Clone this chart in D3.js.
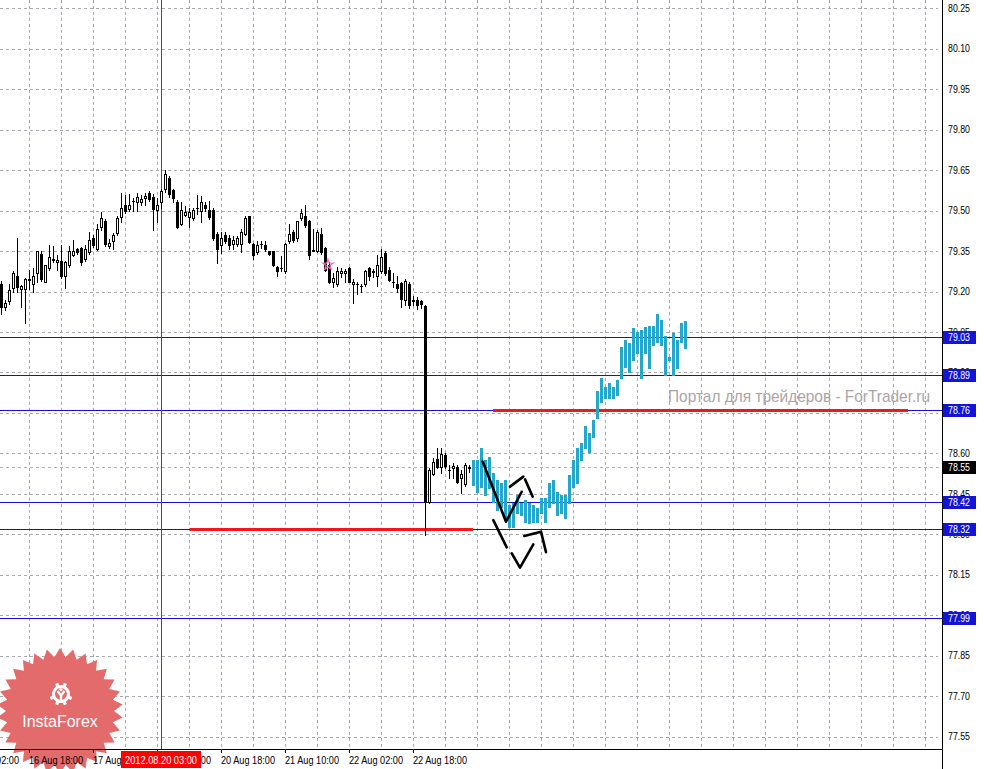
<!DOCTYPE html>
<html><head><meta charset="utf-8">
<script src="https://cdn.jsdelivr.net/npm/d3@7"></script>
<style>html,body{margin:0;padding:0;background:#fff;overflow:hidden}svg{display:block}</style>
</head><body><svg id="c" width="984" height="769"></svg>
<script>
// ---- candle data (H1 bars, bar 0 = 16 Aug 11:00) ----
const opens = [79.229,79.144,79.166,79.215,79.259,79.209,79.209,79.242,79.227,79.269,
79.34,79.237,79.287,79.32,79.309,79.312,79.256,79.297,79.336,79.359,
79.361,79.319,79.347,79.399,79.359,79.44,79.461,79.369,79.387,79.417,
79.477,79.522,79.507,79.534,79.531,79.531,79.547,79.564,79.552,79.502,
79.531,79.579,79.622,79.575,79.531,79.449,79.484,79.477,79.472,79.509,
79.5,79.522,79.502,79.502,79.412,79.371,79.41,79.4,79.377,79.377,
79.375,79.412,79.479,79.377,79.346,79.377,79.371,79.35,79.35,79.29,
79.287,79.275,79.387,79.419,79.4,79.471,79.479,79.46,79.355,79.35,
79.412,79.36,79.3,79.234,79.227,79.269,79.269,79.287,79.227,79.227,
79.219,79.227,79.287,79.275,79.256,79.275,79.344,79.281,79.237,79.229,
79.231,79.169,79.229,79.169,79.169,79.166,79.147,78.421,78.523,78.579,
78.551,78.596,78.539,78.545,78.551,78.508,78.486,78.547];
const highs = [79.241,79.17,79.229,79.275,79.40,79.225,79.25,79.28,79.287,79.35,
79.35,79.3,79.371,79.37,79.337,79.371,79.315,79.37,79.39,79.36,
79.365,79.372,79.42,79.41,79.45,79.494,79.47,79.395,79.417,79.481,
79.565,79.559,79.56,79.546,79.565,79.559,79.565,79.572,79.56,79.546,
79.581,79.652,79.63,79.58,79.54,79.531,79.519,79.509,79.509,79.559,
79.556,79.531,79.534,79.51,79.42,79.419,79.419,79.409,79.406,79.406,
79.431,79.48,79.48,79.38,79.387,79.387,79.387,79.352,79.352,79.295,
79.331,79.38,79.45,79.43,79.461,79.506,79.522,79.465,79.431,79.43,
79.434,79.365,79.31,79.269,79.29,79.287,79.285,79.29,79.246,79.237,
79.227,79.28,79.29,79.285,79.337,79.359,79.35,79.29,79.27,79.256,
79.235,79.245,79.235,79.184,79.181,79.17,79.15,78.546,78.582,78.619,
78.619,78.60,78.557,78.565,78.556,78.539,78.565,78.557];
const lows = [79.115,79.13,79.155,79.2,79.20,79.144,79.084,79.21,79.2,79.235,
79.24,79.235,79.28,79.31,79.28,79.25,79.215,79.29,79.33,79.34,
79.3,79.315,79.34,79.365,79.355,79.43,79.37,79.36,79.356,79.41,
79.459,79.49,79.497,79.5,79.5,79.52,79.522,79.535,79.429,79.459,
79.509,79.57,79.55,79.531,79.435,79.445,79.48,79.44,79.465,79.487,
79.459,79.5,79.47,79.39,79.306,79.344,79.38,79.356,79.356,79.37,
79.346,79.41,79.38,79.319,79.34,79.36,79.35,79.335,79.295,79.256,
79.275,79.27,79.38,79.385,79.387,79.465,79.44,79.319,79.35,79.345,
79.34,79.275,79.23,79.216,79.22,79.254,79.237,79.234,79.156,79.19,
79.199,79.22,79.244,79.254,79.219,79.27,79.26,79.24,79.216,79.2,
79.144,79.15,79.14,79.15,79.134,79.14,78.296,78.418,78.52,78.545,
78.527,78.545,78.509,78.508,78.49,78.455,78.48,78.533];
const closes = [79.144,79.159,79.206,79.269,79.216,79.219,79.247,79.245,79.259,79.349,
79.246,79.297,79.329,79.317,79.317,79.256,79.309,79.349,79.349,79.346,
79.309,79.359,79.39,79.371,79.431,79.471,79.376,79.379,79.411,79.471,
79.509,79.5,79.52,79.534,79.552,79.544,79.553,79.544,79.506,79.522,
79.574,79.635,79.56,79.547,79.44,79.502,79.494,79.494,79.504,79.508,
79.531,79.509,79.477,79.397,79.359,79.4,79.387,79.371,79.39,79.4,
79.419,79.472,79.385,79.337,79.371,79.377,79.356,79.34,79.297,79.275,
79.287,79.377,79.412,79.39,79.46,79.491,79.446,79.337,79.352,79.421,
79.347,79.281,79.237,79.25,79.275,79.277,79.277,79.237,79.237,79.227,
79.219,79.275,79.256,79.274,79.3,79.329,79.269,79.244,79.236,79.212,
79.171,79.24,79.15,79.166,79.152,79.155,78.420,78.539,78.567,78.551,
78.598,78.554,78.537,78.555,78.495,78.523,78.557,78.549];

// ---- projected (analog) bars, continuing after the last candle ----
const projHigh = [78.576,78.576,78.620,78.576,78.587,78.528,78.502,78.490,78.502,78.409,
78.416,78.446,78.416,78.427,78.416,78.409,78.398,78.435,78.435,78.490,
78.502,78.457,78.446,78.446,78.520,78.576,78.620,78.639,78.702,78.676,
78.724,78.831,78.880,78.846,78.861,78.846,78.872,78.995,79.021,79.009,
79.065,79.050,79.058,79.069,79.072,79.072,79.117,79.095,79.035,78.957,
79.047,79.021,79.084,79.091];
const projLow = [78.483,78.457,78.476,78.446,78.472,78.420,78.390,78.401,78.364,78.327,
78.327,78.379,78.372,78.346,78.342,78.346,78.346,78.379,78.346,78.401,
78.416,78.372,78.379,78.361,78.416,78.476,78.490,78.576,78.620,78.605,
78.661,78.731,78.791,78.806,78.806,78.806,78.817,78.880,78.920,78.902,
78.946,78.972,78.880,78.972,78.917,79.002,79.013,79.002,78.891,78.946,
78.891,78.917,79.013,78.991];

// ---- axes / annotations ----
const priceTicks = [80.25,80.10,79.95,79.80,79.65,79.50,79.35,79.20,79.05,78.90,78.75,78.60,78.45,78.30,78.15,78.00,77.85,77.70,77.55];
const timeLabels = ["16 Aug 02:00","16 Aug 18:00","17 Aug 10:00","20 Aug 02:00","20 Aug 18:00","21 Aug 10:00","22 Aug 02:00","22 Aug 18:00"];
const timeLabelBars = [-9,7,23,39,55,71,87,103];
const levelPrices = [79.03,78.89,78.76,78.42,78.32,77.99];
const bidPrice = 78.55;
const cursorBar = 40;
const cursorLabel = "2012.08.20 03:00";
const redLevelPrices = [78.32,78.76];
const redLevelStart = [47.25,123];
const redLevelEnd = [118,226.75];
const zigzagSolid = [[[120.42,78.570],[126.25,78.347],[130.17,78.458]]];
const zigzagDashes = [
  [[127.25,78.477],[130.58,78.514]],
  [[131,78.504],[132.92,78.440]],
  [[123.08,78.353],[126.42,78.252]],
  [[127.67,78.230],[129.75,78.177],[133.08,78.263]],
  [[130.83,78.294],[135,78.310],[136.25,78.234]]
];
const starMark = [81.75,79.299];
const watermark = "Портал для трейдеров - ForTrader.ru";

const svg = d3.select("#c");
const W = 984, H = 769, plotR = 942, plotB = 749;
const x = d3.scaleLinear().domain([0,1]).range([1,5]);
const y = d3.scaleLinear().domain([77.55,80.25]).range([736.7,8.3]);
const py = p => Math.round(y(p));
const FONT = "'Liberation Sans', Arial, sans-serif";

svg.append("rect").attr("width",W).attr("height",H).attr("fill","#fff");

const plot = svg.append("g");
plot.append("clipPath").attr("id","clip").append("rect").attr("x",0).attr("y",0).attr("width",plotR).attr("height",plotB);
const g = plot.append("g").attr("clip-path","url(#clip)");

// grid
const gridColor = "#a8a8b0";
g.selectAll(".hg").data(priceTicks).join("line")
  .attr("x1",0).attr("x2",938).attr("y1",d=>py(d)+0.5).attr("y2",d=>py(d)+0.5)
  .attr("stroke",gridColor).attr("stroke-dasharray","3,3");
const vgrid = d3.range(7, 236, 8);
g.selectAll(".vg").data(vgrid).join("line")
  .attr("x1",d=>x(d)+0.5).attr("x2",d=>x(d)+0.5).attr("y1",0).attr("y2",plotB)
  .attr("stroke",gridColor).attr("stroke-dasharray","3,3");

// bid line
g.append("line").attr("x1",0).attr("x2",plotR).attr("y1",py(bidPrice)+0.5).attr("y2",py(bidPrice)+0.5)
  .attr("stroke","#b0b0b0").attr("stroke-dasharray","3,3");

// horizontal levels
g.selectAll(".lv").data(levelPrices).join("line")
  .attr("x1",0).attr("x2",plotR).attr("y1",d=>py(d)+0.5).attr("y2",d=>py(d)+0.5)
  .attr("stroke","#1010d8").attr("stroke-width",1);

// cursor vertical
g.append("line").attr("x1",x(cursorBar)+0.5).attr("x2",x(cursorBar)+0.5).attr("y1",0).attr("y2",plotB)
  .attr("stroke","#e01010").attr("stroke-width",1);

// red segments
g.selectAll(".red").data(redLevelPrices).join("rect")
  .attr("x",(d,i)=>x(redLevelStart[i])).attr("width",(d,i)=>x(redLevelEnd[i])-x(redLevelStart[i]))
  .attr("y",d=>py(d)-1).attr("height",3).attr("fill","#f01818");

// watermark
g.append("text").attr("x",668).attr("y",402).attr("font-family",FONT).attr("font-size",17)
  .attr("fill","#aca4a4").attr("textLength",262).attr("lengthAdjust","spacingAndGlyphs").text(watermark);

// candles
const candles = opens.map((o,i)=>({i,o,h:highs[i],l:lows[i],c:closes[i]}));
const cg = g.append("g").attr("shape-rendering","crispEdges");
candles.forEach(d=>{
  const cx = Math.round(x(d.i));
  const yh = py(d.h), yl = py(d.l);
  cg.append("rect").attr("x",cx).attr("y",yh).attr("width",1).attr("height",Math.max(1,yl-yh+1)).attr("fill","#000");
  const top = py(Math.max(d.o,d.c)), bot = py(Math.min(d.o,d.c));
  cg.append("rect").attr("x",cx-1).attr("y",top).attr("width",3).attr("height",Math.max(1,bot-top+1)).attr("fill","#000");
  if (d.c > d.o && bot-top >= 2) {
    cg.append("rect").attr("x",cx).attr("y",top+1).attr("width",1).attr("height",bot-top-1).attr("fill","#fff");
  }
});

// projected bars
const off = opens.length;
cg.selectAll(".pb").data(projHigh).join("rect")
  .attr("x",(d,i)=>Math.round(x(off+i))-1).attr("width",3)
  .attr("y",d=>py(d)).attr("height",(d,i)=>py(projLow[i])-py(d)+1)
  .attr("fill","#25a7cb");

// pink star marker
const star5 = d3.range(10).map(k=>{const r=k%2?2:5.5, a=k*Math.PI/5-Math.PI/2;return [x(starMark[0])+r*Math.cos(a), y(starMark[1])+r*Math.sin(a)];});
g.append("path").attr("d","M"+star5.join("L")+"Z").attr("fill","none").attr("stroke","#f070c0").attr("stroke-width",1.2);

// zigzags
const line = d3.line().x(d=>x(d[0])).y(d=>y(d[1]));
g.selectAll(".zs").data(zigzagSolid).join("path").attr("d",line).attr("fill","none")
  .attr("stroke","#000").attr("stroke-width",2.6).attr("stroke-linecap","round").attr("stroke-linejoin","round");
g.selectAll(".zd").data(zigzagDashes).join("path").attr("d",line).attr("fill","none")
  .attr("stroke","#000").attr("stroke-width",2.6).attr("stroke-linecap","round").attr("stroke-linejoin","round");

// InstaForex logo
const lg = svg.append("g").attr("transform","translate(60,711)");
const nSp = 30;
const sun = d3.range(nSp*2).map(k=>{const r=k%2?54:63, a=k*Math.PI/nSp-Math.PI/2;return [r*Math.cos(a), r*Math.sin(a)];});
lg.append("path").attr("d","M"+sun.join("L")+"Z").attr("fill","#e46b6b");
const gear = lg.append("g").attr("transform","translate(1,-17)").attr("stroke","#fff").attr("fill","none");
gear.append("path").attr("d",d3.arc()({innerRadius:6,outerRadius:9,startAngle:Math.PI*0.8,endAngle:Math.PI*3.2})).attr("fill","#fff").attr("stroke","none");
d3.range(8).forEach(k=>{const a=k*Math.PI/4+Math.PI/8; if(Math.abs(Math.sin(a))>0.9 && Math.cos(a)>0) return;
  gear.append("rect").attr("x",-1.6).attr("y",-11.5).attr("width",3.2).attr("height",4).attr("fill","#fff").attr("stroke","none")
   .attr("transform",`rotate(${a*180/Math.PI})`);});
gear.append("path").attr("d","M-3.5,-3 L0,1.5 L3.5,-3 M0,1.5 L0,9").attr("stroke-width",2.4);
gear.append("circle").attr("cx",0).attr("cy",-4.5).attr("r",1.6).attr("fill","#fff").attr("stroke","none");
lg.append("text").attr("x",0).attr("y",16).attr("text-anchor","middle").attr("font-family",FONT)
  .attr("font-size",16).attr("fill","#fff").text("InstaForex");

// axes lines
svg.append("line").attr("x1",plotR+0.5).attr("x2",plotR+0.5).attr("y1",0).attr("y2",H).attr("stroke","#000");
svg.append("line").attr("x1",0).attr("x2",plotR).attr("y1",plotB+0.5).attr("y2",plotB+0.5).attr("stroke","#000");

// price labels
svg.selectAll(".pl").data(priceTicks).join("text")
  .attr("x",948).attr("y",d=>y(d)+3.6).attr("font-family",FONT).attr("font-size",10)
  .attr("textLength",22).attr("lengthAdjust","spacingAndGlyphs").attr("fill","#000").text(d=>d.toFixed(2));

// level boxes
const boxes = levelPrices.map(p=>({p,fill:"#1414d8"})).concat([{p:bidPrice,fill:"#000"}]);
const bx = svg.selectAll(".bx").data(boxes).join("g");
bx.append("rect").attr("x",943).attr("y",d=>py(d.p)-6).attr("width",33).attr("height",13).attr("fill",d=>d.fill);
bx.append("text").attr("x",948).attr("y",d=>py(d.p)+4).attr("font-family",FONT).attr("font-size",10)
  .attr("textLength",22).attr("lengthAdjust","spacingAndGlyphs").attr("fill","#fff").text(d=>d.p.toFixed(2));

// time labels
svg.selectAll(".tk").data(timeLabelBars).join("line")
  .attr("x1",d=>x(d)+0.5).attr("x2",d=>x(d)+0.5).attr("y1",plotB).attr("y2",plotB+4).attr("stroke","#000");
svg.selectAll(".tl").data(timeLabels).join("text")
  .attr("x",(d,i)=>x(timeLabelBars[i])).attr("y",764).attr("font-family",FONT).attr("font-size",10)
  .attr("textLength",54).attr("lengthAdjust","spacingAndGlyphs").attr("fill","#000").text(d=>d);

// cursor label
svg.append("rect").attr("x",x(cursorBar)-40).attr("y",751).attr("width",80).attr("height",17).attr("fill","#ff0000");
svg.append("text").attr("x",x(cursorBar)).attr("y",764).attr("text-anchor","middle").attr("font-family",FONT)
  .attr("font-size",10).attr("textLength",72).attr("lengthAdjust","spacingAndGlyphs").attr("fill","#fff").text(cursorLabel);
</script></body></html>
